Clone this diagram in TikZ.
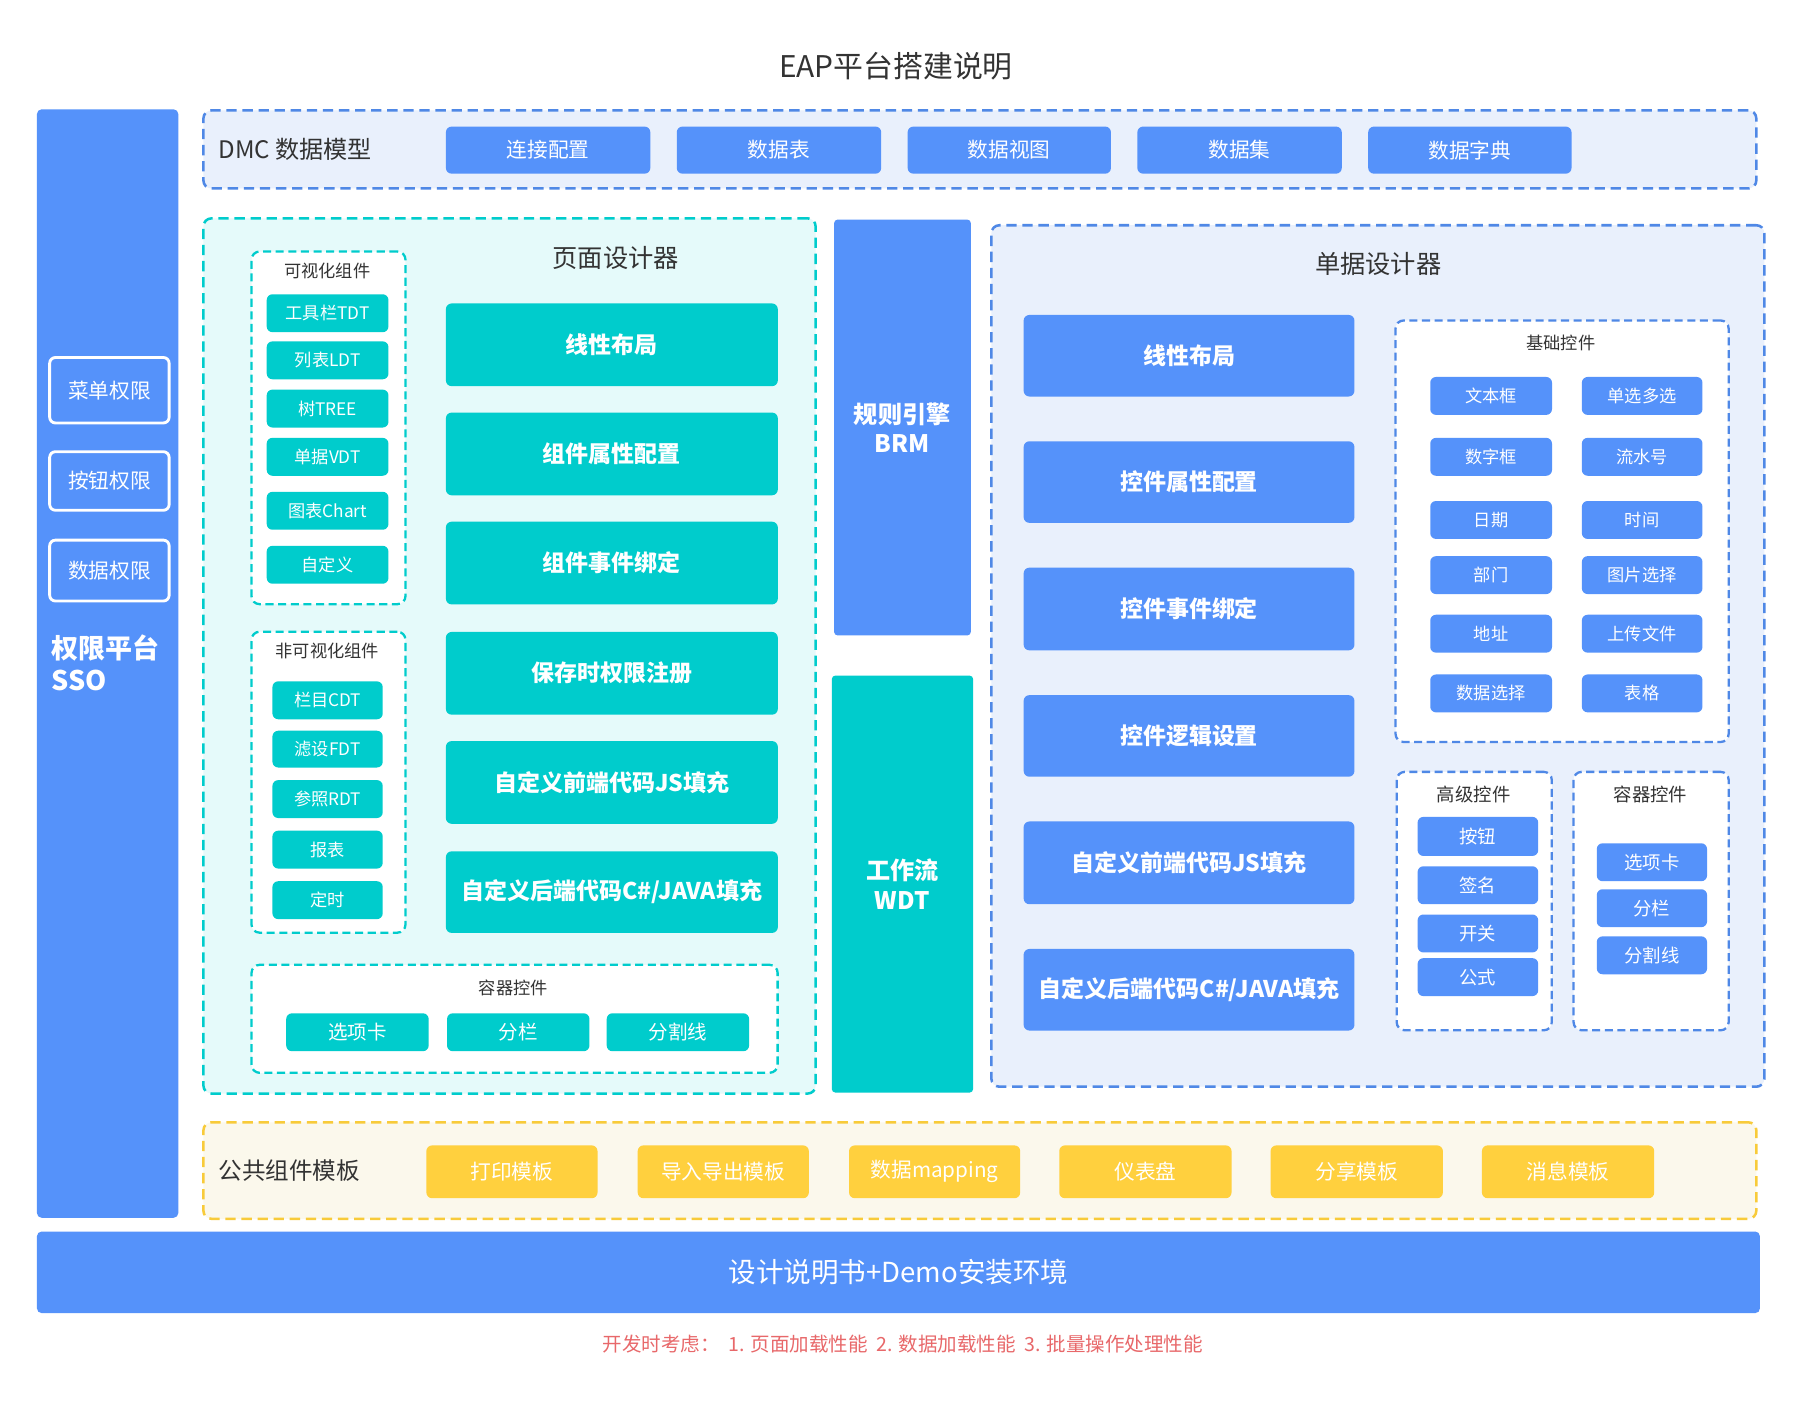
\documentclass[tikz,border=0pt]{standalone}
\usepackage{fontspec}
\setmainfont{Noto Sans CJK SC}
\definecolor{cblue}{HTML}{5592FA}
\definecolor{cdblue}{HTML}{4F88E6}
\definecolor{cteal}{HTML}{00CCCC}
\definecolor{cyel}{HTML}{FFD03E}
\definecolor{cyelb}{HTML}{F8CB3A}
\definecolor{fblue}{HTML}{E9F0FC}
\definecolor{fteal}{HTML}{E5FAFA}
\definecolor{fyel}{HTML}{FBF8EC}
\definecolor{ctext}{HTML}{333333}
\definecolor{cred}{HTML}{E8686A}
\newcommand{\fs}[1]{\fontsize{#1}{#1}\selectfont}
% style, name, x1, y1, x2, y2, text
\newcommand{\bx}[7]{\node[#1,anchor=north west,inner sep=0pt,minimum width={(#5-#3)*1pt},minimum height={(#6-#4)*1pt}] (#2) at (#3,#4) {#7};}
\tikzset{
  btnb/.style={fill=cblue,rounded corners=5pt,text=white},
  btnt/.style={fill=cteal,rounded corners=5pt,text=white},
  btny/.style={fill=cyel,rounded corners=5pt,text=white},
  dbox/.style={dashed,dash pattern=on 9pt off 5pt,line width=2.2pt,rounded corners=7pt},
  ibox/.style={dbox,fill=white,line width=2pt,dash pattern=on 7pt off 4pt},
  permbox/.style={draw=white,line width=2.5pt,fill=cblue,rounded corners=5pt,text=white},
  lbl/.style={text=ctext,inner sep=0pt},
}
\begin{document}
\begin{tikzpicture}[x=1pt,y=-1pt]
\useasboundingbox[fill=white] (0,0) rectangle (1568,1228.4);
% title
\node[lbl,font=\fs{26}] (title) at (780,58) {EAP平台搭建说明};
% left permission bar
\bx{fill=cblue,rounded corners=4pt}{sso}{32}{95}{155}{1060}{}
\bx{permbox,font=\fs{18}}{p1}{42}{310}{146}{367}{菜单权限}
\bx{permbox,font=\fs{18}}{p2}{42}{392}{146}{443}{按钮权限}
\bx{permbox,font=\fs{18}}{p3}{42}{469}{146}{522}{数据权限}
\node[anchor=west,align=left,text=white,inner sep=0pt,font=\bfseries\fontsize{23.5}{28}\selectfont] (ssot) at (45,577) {权限平台\\SSO};
% DMC
\bx{dbox,draw=cdblue,fill=fblue}{dmc}{176}{95}{1528}{163}{}
\node[lbl,anchor=west,font=\fs{21}] (dmct) at (190,130) {DMC 数据模型};
\bx{btnb,font=\fs{18}}{d1}{388}{110}{566}{151}{连接配置}
\bx{btnb,font=\fs{18}}{d2}{589}{110}{767}{151}{数据表}
\bx{btnb,font=\fs{18}}{d3}{790}{110}{967}{151}{数据视图}
\bx{btnb,font=\fs{18}}{d4}{990}{110}{1168}{151}{数据集}
\bx{btnb,font=\fs{18}}{d5}{1191}{110}{1368}{151}{数据字典}
% page designer
\bx{dbox,draw=cteal,fill=fteal}{pd}{176}{189}{709}{951}{}
\node[lbl,font=\fs{22}] (pdt) at (536,225) {页面设计器};
\bx{ibox,draw=cteal}{vis}{218}{218}{352}{525}{}
\node[lbl,font=\fs{15}] (vist) at (285,236) {可视化组件};
\bx{btnt,font=\fs{15}}{v1}{232}{256}{338}{289}{工具栏TDT}
\bx{btnt,font=\fs{15}}{v2}{232}{297}{338}{330}{列表LDT}
\bx{btnt,font=\fs{15}}{v3}{232}{339}{338}{372}{树TREE}
\bx{btnt,font=\fs{15}}{v4}{232}{381}{338}{414}{单据VDT}
\bx{btnt,font=\fs{15}}{v5}{232}{428}{338}{461}{图表Chart}
\bx{btnt,font=\fs{15}}{v6}{232}{475}{338}{508}{自定义}
\bx{ibox,draw=cteal}{nvis}{218}{549}{352}{811}{}
\node[lbl,font=\fs{15}] (nvist) at (285,567) {非可视化组件};
\bx{btnt,font=\fs{15}}{n1}{237}{593}{333}{626}{栏目CDT}
\bx{btnt,font=\fs{15}}{n2}{237}{636}{333}{668}{滤设FDT}
\bx{btnt,font=\fs{15}}{n3}{237}{679}{333}{712}{参照RDT}
\bx{btnt,font=\fs{15}}{n4}{237}{723}{333}{756}{报表}
\bx{btnt,font=\fs{15}}{n5}{237}{767}{333}{800}{定时}
\bx{btnt,font=\bfseries\fs{20}}{b1}{388}{264}{677}{336}{线性布局}
\bx{btnt,font=\bfseries\fs{20}}{b2}{388}{359}{677}{431}{组件属性配置}
\bx{btnt,font=\bfseries\fs{20}}{b3}{388}{454}{677}{526}{组件事件绑定}
\bx{btnt,font=\bfseries\fs{20}}{b4}{388}{550}{677}{622}{保存时权限注册}
\bx{btnt,font=\bfseries\fs{20}}{b5}{388}{645}{677}{717}{自定义前端代码JS填充}
\bx{btnt,font=\bfseries\fs{20}}{b6}{388}{741}{677}{812}{自定义后端代码C\#/JAVA填充}
\bx{ibox,draw=cteal}{pcont}{218}{839}{676}{933}{}
\node[lbl,font=\fs{15}] (pcontt) at (447,860) {容器控件};
\bx{btnt,font=\fs{17}}{c1}{249}{882}{373}{915}{选项卡}
\bx{btnt,font=\fs{17}}{c2}{389}{882}{513}{915}{分栏}
\bx{btnt,font=\fs{17}}{c3}{528}{882}{652}{915}{分割线}
% BRM / WDT
\bx{fill=cblue,rounded corners=3pt}{brm}{726}{191}{845}{553}{}
\node[text=white,font=\bfseries\fontsize{21}{25}\selectfont,align=center,inner sep=0pt] (brmt) at (785.5,372.5) {规则引擎\\BRM};
\bx{fill=cteal,rounded corners=3pt}{wdt}{724}{588}{847}{951}{}
\node[text=white,font=\bfseries\fontsize{21}{26}\selectfont,align=center,inner sep=0pt] (wdtt) at (785.5,770) {工作流\\WDT};
% form designer
\bx{dbox,draw=cdblue,fill=fblue}{fd}{862}{195}{1535}{945}{}
\node[lbl,font=\fs{22}] (fdt) at (1200,230) {单据设计器};
\bx{btnb,font=\bfseries\fs{20}}{f1}{891}{274}{1179}{345}{线性布局}
\bx{btnb,font=\bfseries\fs{20}}{f2}{891}{384}{1179}{455}{控件属性配置}
\bx{btnb,font=\bfseries\fs{20}}{f3}{891}{494}{1179}{566}{控件事件绑定}
\bx{btnb,font=\bfseries\fs{20}}{f4}{891}{605}{1179}{676}{控件逻辑设置}
\bx{btnb,font=\bfseries\fs{20}}{f5}{891}{715}{1179}{787}{自定义前端代码JS填充}
\bx{btnb,font=\bfseries\fs{20}}{f6}{891}{826}{1179}{897}{自定义后端代码C\#/JAVA填充}
\bx{ibox,draw=cdblue}{basic}{1214}{278}{1504}{645}{}
\node[lbl,font=\fs{15}] (basict) at (1359,299) {基础控件};
\bx{btnb,font=\fs{15}}{k1}{1245}{328}{1351}{361}{文本框}
\bx{btnb,font=\fs{15}}{k2}{1377}{328}{1482}{361}{单选多选}
\bx{btnb,font=\fs{15}}{k3}{1245}{381}{1351}{414}{数字框}
\bx{btnb,font=\fs{15}}{k4}{1377}{381}{1482}{414}{流水号}
\bx{btnb,font=\fs{15}}{k5}{1245}{436}{1351}{469}{日期}
\bx{btnb,font=\fs{15}}{k6}{1377}{436}{1482}{469}{时间}
\bx{btnb,font=\fs{15}}{k7}{1245}{484}{1351}{517}{部门}
\bx{btnb,font=\fs{15}}{k8}{1377}{484}{1482}{517}{图片选择}
\bx{btnb,font=\fs{15}}{k9}{1245}{535}{1351}{568}{地址}
\bx{btnb,font=\fs{15}}{k10}{1377}{535}{1482}{568}{上传文件}
\bx{btnb,font=\fs{15}}{k11}{1245}{587}{1351}{620}{数据选择}
\bx{btnb,font=\fs{15}}{k12}{1377}{587}{1482}{620}{表格}
\bx{ibox,draw=cdblue}{adv}{1215}{671}{1350}{896}{}
\node[lbl,font=\fs{16}] (advt) at (1283,692) {高级控件};
\bx{btnb,font=\fs{16}}{a1}{1234}{711}{1339}{745}{按钮}
\bx{btnb,font=\fs{16}}{a2}{1234}{754}{1339}{787}{签名}
\bx{btnb,font=\fs{16}}{a3}{1234}{796}{1339}{829}{开关}
\bx{btnb,font=\fs{16}}{a4}{1234}{834}{1339}{867}{公式}
\bx{ibox,draw=cdblue}{fcont}{1369}{671}{1504}{896}{}
\node[lbl,font=\fs{16}] (fcontt) at (1437,692) {容器控件};
\bx{btnb,font=\fs{16}}{e1}{1390}{734}{1486}{767}{选项卡}
\bx{btnb,font=\fs{16}}{e2}{1390}{774}{1486}{807}{分栏}
\bx{btnb,font=\fs{16}}{e3}{1390}{815}{1486}{848}{分割线}
% common templates
\bx{dbox,draw=cyelb,fill=fyel}{tpl}{176}{976}{1528}{1060}{}
\node[lbl,anchor=west,font=\fs{20.5}] (tplt) at (190,1019) {公共组件模板};
\bx{btny,font=\fs{18}}{y1}{371}{997}{520}{1043}{打印模板}
\bx{btny,font=\fs{18}}{y2}{555}{997}{704}{1043}{导入导出模板}
\bx{btny,font=\fs{18}}{y3}{739}{997}{888}{1043}{数据mapping}
\bx{btny,font=\fs{18}}{y4}{922}{997}{1072}{1043}{仪表盘}
\bx{btny,font=\fs{18}}{y5}{1106}{997}{1256}{1043}{分享模板}
\bx{btny,font=\fs{18}}{y6}{1290}{997}{1440}{1043}{消息模板}
% bottom bar
\bx{fill=cblue,rounded corners=4pt,text=white,font=\fs{24}}{demo}{32}{1072}{1532}{1143}{设计说明书+Demo安装环境}
% footer
\node[text=cred,font=\fs{17},inner sep=0pt] (foot) at (786,1170) {开发时考虑：\ \ 1. 页面加载性能\ \ 2. 数据加载性能\ \ 3. 批量操作处理性能};
\end{tikzpicture}
\end{document}
